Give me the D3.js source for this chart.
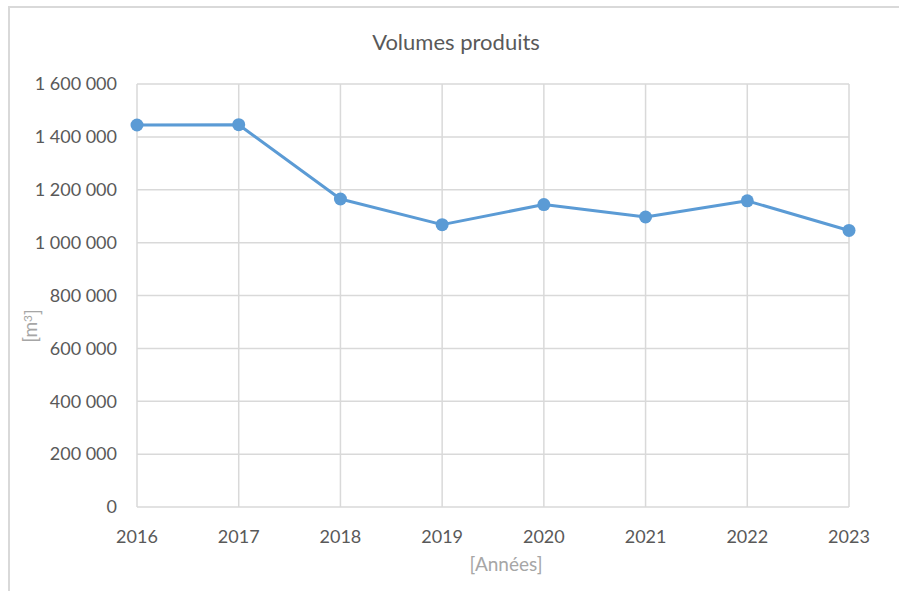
<!DOCTYPE html>
<html>
<head>
<meta charset="utf-8">
<script src="https://cdn.jsdelivr.net/npm/d3@7"></script>
<style>
  body { margin: 0; background: #fff; }
  text { font-family: Lato, "Open Sans", sans-serif; }
</style>
</head>
<body>
<svg id="chart"></svg>
<script>
var years = [2016, 2017, 2018, 2019, 2020, 2021, 2022, 2023];
var volumes = [1445000, 1446000, 1165000, 1068000, 1144000, 1097000, 1158000, 1046000];
var yTicks = [0, 200000, 400000, 600000, 800000, 1000000, 1200000, 1400000, 1600000];

var width = 899, height = 591;
var margin = {top: 84, right: 50, bottom: 84, left: 137};

var svg = d3.select("#chart")
  .attr("width", width)
  .attr("height", height);

// chart frame
svg.append("rect")
  .attr("x", 9).attr("y", 7)
  .attr("width", width + 10).attr("height", height + 10)
  .attr("fill", "white")
  .attr("stroke", "#d9d9d9")
  .attr("stroke-width", 2);

var x = d3.scalePoint()
  .domain(years)
  .range([margin.left, width - margin.right]);

var y = d3.scaleLinear()
  .domain([0, 1600000])
  .range([height - margin.bottom, margin.top]);

var fmt = d => d3.format(",")(d).replace(/,/g, " ");

// horizontal grid
svg.append("g")
  .selectAll("line")
  .data(yTicks)
  .join("line")
  .attr("x1", margin.left).attr("x2", width - margin.right)
  .attr("y1", d => y(d)).attr("y2", d => y(d))
  .attr("stroke", "#d9d9d9")
  .attr("stroke-width", 1.5);

// vertical grid
svg.append("g")
  .selectAll("line")
  .data(years)
  .join("line")
  .attr("x1", d => x(d)).attr("x2", d => x(d))
  .attr("y1", y(1600000)).attr("y2", y(0))
  .attr("stroke", "#d9d9d9")
  .attr("stroke-width", 1.5);

// y labels
svg.append("g")
  .selectAll("text")
  .data(yTicks)
  .join("text")
  .attr("x", 117)
  .attr("y", d => y(d))
  .attr("dy", "0.35em")
  .attr("text-anchor", "end")
  .attr("font-size", 18)
  .attr("fill", "#595959")
  .text(d => d === 0 ? "0" : fmt(d));

// x labels
svg.append("g")
  .selectAll("text")
  .data(years)
  .join("text")
  .attr("x", d => x(d))
  .attr("y", 537)
  .attr("dy", "0.35em")
  .attr("text-anchor", "middle")
  .attr("font-size", 18)
  .attr("fill", "#595959")
  .text(d => d);

// title
svg.append("text")
  .attr("x", 456).attr("y", 42)
  .attr("dy", "0.35em")
  .attr("text-anchor", "middle")
  .attr("font-size", 22)
  .attr("fill", "#595959")
  .text("Volumes produits");

// axis titles
svg.append("text")
  .attr("x", 506).attr("y", 564)
  .attr("dy", "0.35em")
  .attr("text-anchor", "middle")
  .attr("font-size", 19)
  .attr("fill", "#a6a6a6")
  .text("[Années]");

var yt = svg.append("text")
  .attr("transform", "translate(30,326) rotate(-90)")
  .attr("dy", "0.35em")
  .attr("text-anchor", "middle")
  .attr("font-size", 19)
  .attr("fill", "#a6a6a6");
yt.append("tspan").text("[m");
yt.append("tspan").attr("dy", "-0.4em").attr("font-size", 12).text("3");
yt.append("tspan").attr("dy", "0.4em").text("]");

// line
var line = d3.line()
  .x((d, i) => x(years[i]))
  .y(d => y(d));

svg.append("path")
  .datum(volumes)
  .attr("d", line)
  .attr("fill", "none")
  .attr("stroke", "#5b9bd5")
  .attr("stroke-width", 3)
  .attr("stroke-linejoin", "round");

svg.append("g")
  .selectAll("circle")
  .data(volumes)
  .join("circle")
  .attr("cx", (d, i) => x(years[i]))
  .attr("cy", d => y(d))
  .attr("r", 6.5)
  .attr("fill", "#5b9bd5");
</script>
</body>
</html>
